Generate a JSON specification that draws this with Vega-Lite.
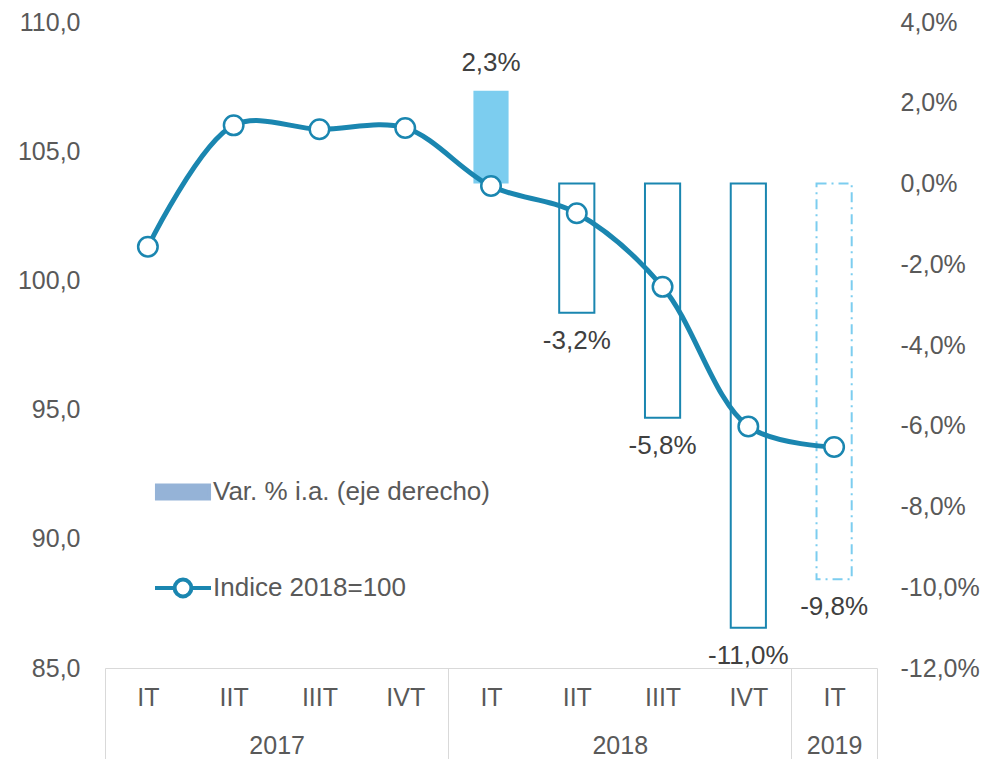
{
  "$schema": "https://vega.github.io/schema/vega-lite/v6.json",
  "width": 772,
  "height": 646,
  "autosize": "none",
  "padding": {"left": 105, "top": 22, "right": 115, "bottom": 91},
  "config": {
    "view": {"stroke": null},
    "font": "Liberation Sans",
    "locale": {"number": {"decimal": ",", "thousands": ".", "grouping": [3], "currency": ["", " €"], "minus": "-"}},
    "axis": {"labelFont": "Liberation Sans", "labelFontSize": 25, "labelColor": "#595959", "grid": false, "ticks": false, "domain": false, "title": null}
  },
  "data": {
    "values": [
      {"periodo": "2017 IT", "indice": 101.3, "var": null, "estado": null},
      {"periodo": "2017 IIT", "indice": 106.0, "var": null, "estado": null},
      {"periodo": "2017 IIIT", "indice": 105.85, "var": null, "estado": null},
      {"periodo": "2017 IVT", "indice": 105.9, "var": null, "estado": null},
      {"periodo": "2018 IT", "indice": 103.65, "var": 0.023, "estado": "positivo"},
      {"periodo": "2018 IIT", "indice": 102.6, "var": -0.032, "estado": "negativo"},
      {"periodo": "2018 IIIT", "indice": 99.75, "var": -0.058, "estado": "negativo"},
      {"periodo": "2018 IVT", "indice": 94.35, "var": -0.11, "estado": "negativo"},
      {"periodo": "2019 IT", "indice": 93.55, "var": -0.098, "estado": "previsto"}
    ]
  },
  "resolve": {"scale": {"x": "independent", "y": "independent"}},
  "layer": [
    {
      "transform": [{"filter": "datum.estado == 'positivo'"}],
      "mark": {"type": "bar", "color": "#7ccdef", "width": {"band": 0.41}},
      "encoding": {
        "x": {
          "field": "periodo", "type": "nominal", "sort": null,
          "scale": {"type": "band", "domain": ["2017 IT", "2017 IIT", "2017 IIIT", "2017 IVT", "2018 IT", "2018 IIT", "2018 IIIT", "2018 IVT", "2019 IT"], "paddingInner": 0, "paddingOuter": 0},
          "axis": {
            "orient": "bottom", "domain": true, "domainColor": "#d9d9d9", "domainWidth": 1,
            "ticks": true, "tickBand": "extent", "tickSize": 91, "tickColor": "#d9d9d9", "tickWidth": 1,
            "tickOpacity": {"condition": {"test": "datum.extra || indexof(['2017 IVT', '2018 IVT', '2019 IT'], datum.value) >= 0", "value": 1}, "value": 0},
            "labelExpr": "substring(datum.label, 5)", "labelBaseline": "middle", "labelPadding": -62, "labelAngle": 0
          }
        },
        "y": {
          "field": "var", "type": "quantitative",
          "scale": {"domain": [-0.12, 0.04], "nice": false, "zero": false},
          "axis": {"orient": "right", "values": [-0.12, -0.1, -0.08, -0.06, -0.04, -0.02, 0, 0.02, 0.04], "format": ".1%", "labelPadding": 23, "labelBaseline": "middle"}
        }
      }
    },
    {
      "transform": [{"filter": "datum.estado == 'negativo'"}],
      "mark": {"type": "bar", "fill": "white", "stroke": "#1a86b0", "strokeWidth": 2, "width": {"band": 0.41}},
      "encoding": {
        "x": {"field": "periodo", "type": "nominal", "sort": null, "axis": null,
          "scale": {"type": "band", "domain": ["2017 IT", "2017 IIT", "2017 IIIT", "2017 IVT", "2018 IT", "2018 IIT", "2018 IIIT", "2018 IVT", "2019 IT"], "paddingInner": 0, "paddingOuter": 0}},
        "y": {"field": "var", "type": "quantitative", "axis": null, "scale": {"domain": [-0.12, 0.04], "nice": false, "zero": false}}
      }
    },
    {
      "transform": [{"filter": "datum.estado == 'previsto'"}],
      "mark": {"type": "bar", "fill": "white", "stroke": "#7ccdef", "strokeWidth": 2, "strokeDash": [10, 5, 2, 5], "width": {"band": 0.41}},
      "encoding": {
        "x": {"field": "periodo", "type": "nominal", "sort": null, "axis": null,
          "scale": {"type": "band", "domain": ["2017 IT", "2017 IIT", "2017 IIIT", "2017 IVT", "2018 IT", "2018 IIT", "2018 IIIT", "2018 IVT", "2019 IT"], "paddingInner": 0, "paddingOuter": 0}},
        "y": {"field": "var", "type": "quantitative", "axis": null, "scale": {"domain": [-0.12, 0.04], "nice": false, "zero": false}}
      }
    },
    {
      "mark": {"type": "line", "interpolate": "catmull-rom", "strokeWidth": 5},
      "encoding": {
        "x": {"field": "periodo", "type": "nominal", "sort": null, "axis": null,
          "scale": {"type": "point", "domain": ["2017 IT", "2017 IIT", "2017 IIIT", "2017 IVT", "2018 IT", "2018 IIT", "2018 IIIT", "2018 IVT", "2019 IT"], "padding": 0.5}},
        "y": {"field": "indice", "type": "quantitative",
          "scale": {"domain": [85, 110], "nice": false, "zero": false},
          "axis": {"orient": "left", "values": [85, 90, 95, 100, 105, 110], "format": ".1f", "labelPadding": 25, "labelBaseline": "middle"}},
        "color": {
          "datum": "Indice 2018=100", "type": "nominal",
          "scale": {"domain": ["Var. % i.a. (eje derecho)", "Indice 2018=100"], "range": ["#95b3d7", "#1a86b0"]},
          "legend": {
            "orient": "none", "legendX": 48, "legendY": 440, "direction": "vertical", "title": null,
            "labelFont": "Liberation Sans", "labelFontSize": 26, "labelColor": "#595959", "labelLimit": 0,
            "symbolSize": 3136, "rowPadding": 51, "labelOffset": 0, "symbolStrokeWidth": 4,
            "encode": {
              "symbols": {
                "update": {
                  "shape": {"signal": "datum.value === 'Indice 2018=100' ? 'M-1,0H-0.3M0.3,0H1M-0.3,0A0.3,0.3 0 1,1 0.3,0A0.3,0.3 0 1,1 -0.3,0Z' : 'M-0.93,-0.232H0.93V0.232H-0.93Z'"},
                  "fill": {"signal": "datum.value === 'Indice 2018=100' ? 'white' : '#95b3d7'"},
                  "stroke": {"signal": "datum.value === 'Indice 2018=100' ? '#1a86b0' : 'transparent'"},
                  "opacity": {"value": 1}
                }
              }
            }
          }
        }
      }
    },
    {
      "mark": {"type": "point", "shape": "circle", "filled": false, "fill": "white", "fillOpacity": 1, "stroke": "#1a86b0", "strokeWidth": 2.5, "size": 380, "opacity": 1},
      "encoding": {
        "x": {"field": "periodo", "type": "nominal", "sort": null, "axis": null,
          "scale": {"type": "point", "domain": ["2017 IT", "2017 IIT", "2017 IIIT", "2017 IVT", "2018 IT", "2018 IIT", "2018 IIIT", "2018 IVT", "2019 IT"], "padding": 0.5}},
        "y": {"field": "indice", "type": "quantitative", "axis": null, "scale": {"domain": [85, 110], "nice": false, "zero": false}}
      }
    },
    {
      "transform": [{"filter": "datum.var > 0"}],
      "mark": {"type": "text", "fontSize": 26, "color": "#404040", "baseline": "middle", "dy": -28},
      "encoding": {
        "x": {"field": "periodo", "type": "nominal", "sort": null, "axis": null,
          "scale": {"type": "point", "domain": ["2017 IT", "2017 IIT", "2017 IIIT", "2017 IVT", "2018 IT", "2018 IIT", "2018 IIIT", "2018 IVT", "2019 IT"], "padding": 0.5}},
        "y": {"field": "var", "type": "quantitative", "axis": null, "scale": {"domain": [-0.12, 0.04], "nice": false, "zero": false}},
        "text": {"field": "var", "type": "quantitative", "format": ".1%"}
      }
    },
    {
      "transform": [{"filter": "datum.var < 0"}],
      "mark": {"type": "text", "fontSize": 26, "color": "#404040", "baseline": "middle", "dy": 28},
      "encoding": {
        "x": {"field": "periodo", "type": "nominal", "sort": null,
          "scale": {"type": "point", "domain": ["2017 IT", "2017 IIT", "2017 IIIT", "2017 IVT", "2018 IT", "2018 IIT", "2018 IIIT", "2018 IVT", "2019 IT"], "padding": 0.5},
          "axis": {
            "orient": "bottom", "values": ["2017 IIT", "2018 IIT", "2019 IT"],
            "labelExpr": "substring(datum.label, 0, 4)",
            "labelOffset": {"condition": {"test": "datum.value == '2019 IT'", "value": 0}, "value": 43},
            "labelPadding": 77, "labelBaseline": "middle", "labelAngle": 0, "ticks": false, "domain": false
          }
        },
        "y": {"field": "var", "type": "quantitative", "axis": null, "scale": {"domain": [-0.12, 0.04], "nice": false, "zero": false}},
        "text": {"field": "var", "type": "quantitative", "format": ".1%"}
      }
    }
  ]
}
